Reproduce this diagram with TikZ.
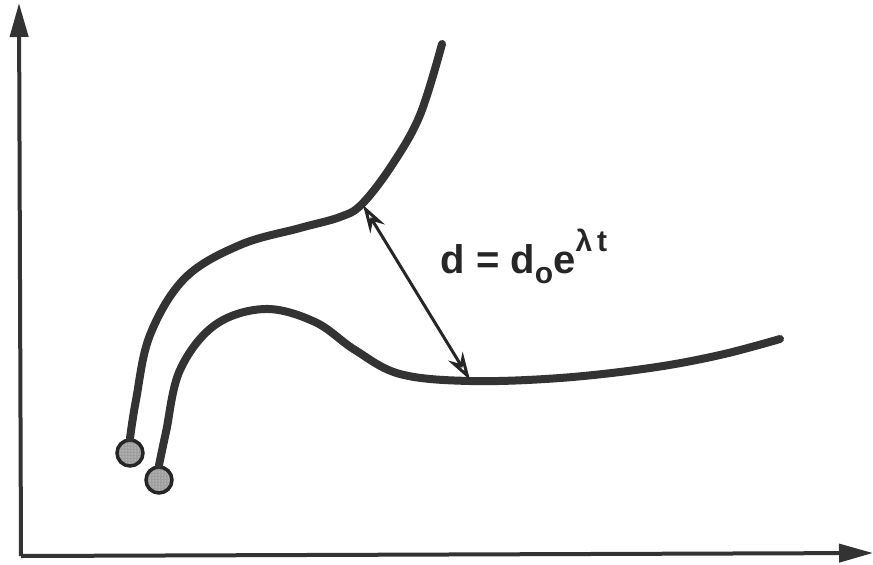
\documentclass[tikz,border=0pt]{standalone}
\usepackage{fontspec}
\setmainfont{Liberation Sans}
\usetikzlibrary{arrows.meta,patterns}
\begin{document}
\begin{tikzpicture}[x=1pt,y=-1pt,
  axis/.style={line width=4pt,draw=black!80,-{Triangle[length=34pt,width=18pt]}},
  traj/.style={line width=8pt,draw=black!80,line cap=round},
  ball/.style={circle,minimum size=26pt,inner sep=0pt,draw=black!85,line width=3.5pt,preaction={fill=gray!75},pattern=dots,pattern color=white},
  sep/.style={line width=3pt,draw=black!85,{Stealth[length=28pt,width=17pt,open]}-{Stealth[length=28pt,width=17pt,open]}},
  lbl/.style={font=\fontsize{40}{46}\selectfont\bfseries,text=black!85}]
\useasboundingbox (0,0) rectangle (873,565);
\coordinate (o) at (21,556);
\coordinate (ytip) at (19,3);
\coordinate (xtip) at (873,553);
\draw[axis] (o) -- (ytip);
\draw[axis] (o) -- (xtip);
\node[ball] (b1) at (130,453) {};
\node[ball] (b2) at (159,480) {};
\draw[traj] plot[smooth,tension=0.6] coordinates {(b1.north) (136,400) (150,335) (185,278) (240,245) (300,228) (340,217) (362,204) (392,165) (420,115) (442,44)};
\draw[traj] plot[smooth,tension=0.6] coordinates {(b2.north) (166,432) (180,370) (215,325) (265,309) (315,322) (355,350) (400,374) (470,381) (560,378) (650,368) (720,355) (780,339)};
\coordinate (p1) at (363,205);
\coordinate (p2) at (470,380);
\draw[sep] (p1) -- (p2);
\node[lbl,anchor=base west] (eq) at (437,273) {d = d\raisebox{-10pt}{\fontsize{30}{34}\selectfont o}e\raisebox{22pt}{\fontsize{30}{34}\selectfont λ\,t}};
\end{tikzpicture}
\end{document}
